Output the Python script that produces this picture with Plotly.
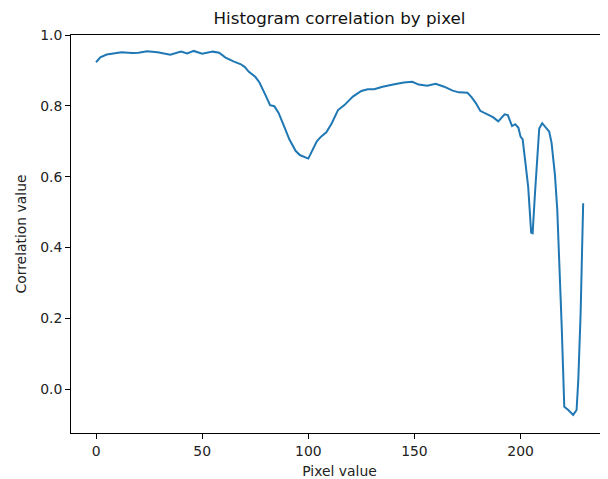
import plotly.graph_objects as go

# pixel value vs histogram correlation
pixel = [
    0, 2, 5, 8, 12, 17, 20, 24, 29, 35, 40, 43, 46, 50, 55, 58, 61, 65, 68, 70,
    72, 75, 77, 80, 82, 84, 86, 89, 91, 94, 96, 100, 102, 104, 106, 108.5, 111,
    114, 117, 121, 125, 128, 131, 135, 140, 145, 149, 152, 156, 160, 164, 168,
    171, 175, 177, 179, 181, 184, 187, 189.5, 192.5, 194, 196, 197.5, 199, 200,
    201, 202.5, 203.6, 205, 205.7, 206.8, 208.8, 210.2, 211.5, 213.5, 214.6,
    216.2, 217.3, 218.3, 219.4, 220.6, 222.5, 224.8, 226.4, 227.2, 228.3, 229.5,
]
correlation = [
    0.923, 0.937, 0.945, 0.947, 0.951, 0.949, 0.950, 0.954, 0.951, 0.944, 0.953,
    0.948, 0.955, 0.947, 0.953, 0.950, 0.936, 0.925, 0.918, 0.910, 0.896, 0.882,
    0.866, 0.828, 0.802, 0.799, 0.780, 0.736, 0.706, 0.673, 0.661, 0.651, 0.675,
    0.700, 0.713, 0.725, 0.750, 0.788, 0.802, 0.826, 0.842, 0.847, 0.847, 0.854,
    0.860, 0.866, 0.868, 0.860, 0.857, 0.862, 0.854, 0.843, 0.838, 0.837, 0.824,
    0.807, 0.786, 0.778, 0.768, 0.756, 0.776, 0.774, 0.743, 0.748, 0.738, 0.713,
    0.705, 0.628, 0.571, 0.442, 0.440, 0.553, 0.736, 0.751, 0.742, 0.727, 0.696,
    0.605, 0.506, 0.370, 0.175, -0.050, -0.059, -0.073, -0.059, 0.025, 0.214,
    0.525,
]

x_ticks = [0, 50, 100, 150, 200]
y_ticks = [0.0, 0.2, 0.4, 0.6, 0.8, 1.0]

FONT = "DejaVu Sans, sans-serif"

fig = go.Figure()
fig.add_trace(
    go.Scatter(
        x=pixel,
        y=correlation,
        mode="lines",
        line=dict(color="#1f77b4", width=2),
        showlegend=False,
    )
)

axis_common = dict(
    automargin=False,
    showline=True,
    linecolor="black",
    linewidth=1,
    mirror=True,
    showgrid=False,
    zeroline=False,
    ticks="outside",
    ticklen=5,
    tickwidth=1,
    tickcolor="black",
    tickfont=dict(family=FONT, size=13.9, color="#222"),
)

# the page body has an 8px margin, so the figure is 8px smaller each way
fig.update_layout(
    width=600,
    height=471,
    margin=dict(l=63, r=0, t=27, b=46),
    paper_bgcolor="white",
    plot_bgcolor="white",
    font=dict(family=FONT, color="#222"),
    title=dict(
        text="Histogram correlation by pixel",
        x=0.5,
        xref="paper",
        xanchor="center",
        y=1,
        yref="container",
        yanchor="top",
        pad=dict(t=4),
        font=dict(family=FONT, size=16.7, color="#111"),
    ),
    xaxis=dict(
        axis_common,
        range=[-11.8, 241.2],
        tickvals=x_ticks,
        title=dict(text="Pixel value", font=dict(family=FONT, size=13.9), standoff=8),
    ),
    yaxis=dict(
        axis_common,
        range=[-0.124, 1.0],
        tickvals=y_ticks,
        tickformat=".1f",
        title=dict(text="Correlation value", font=dict(family=FONT, size=13.9), standoff=10),
    ),
)

fig.write_html("out.html")
